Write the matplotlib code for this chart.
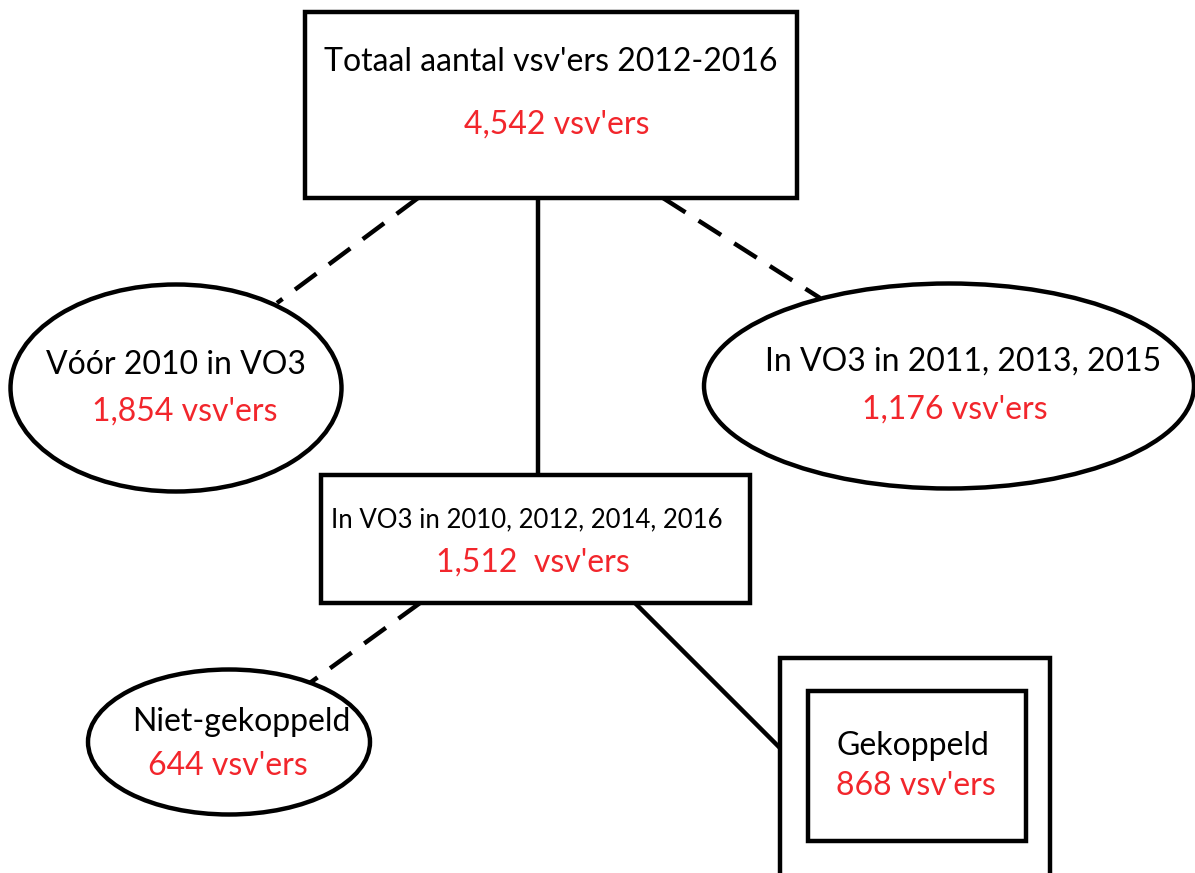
import matplotlib.pyplot as plt
from matplotlib.patches import Rectangle, Ellipse

# node texts and counts
labels = ["Totaal aantal vsv'ers 2012-2016", "Vóór 2010 in VO3",
          "In VO3 in 2011, 2013, 2015", "In VO3 in 2010, 2012, 2014, 2016",
          "Niet-gekoppeld", "Gekoppeld"]
counts = [4542, 1854, 1176, 1512, 644, 868]
count_fmt = ["{:,} vsv'ers", "{:,} vsv'ers", "{:,} vsv'ers",
             "{:,}  vsv'ers", "{:,} vsv'ers", "{:,} vsv'ers"]

RED = '#f2262c'
LW = 3.2
plt.rcParams['font.family'] = ['Lato', 'DejaVu Sans']

fig = plt.figure(figsize=(11.95, 8.73), dpi=100)
ax = fig.add_axes([0, 0, 1, 1])
ax.set_xlim(0, 1195)
ax.set_ylim(873, 0)
ax.axis('off')

# connectors
ax.plot([418, 277], [198, 303], color='k', lw=LW, ls=(0, (6, 3.5)))
ax.plot([663, 820], [198, 298], color='k', lw=LW, ls=(0, (6, 3.5)))
ax.plot([538, 538], [198, 475], color='k', lw=LW)
ax.plot([420, 307], [603, 685], color='k', lw=LW, ls=(0, (6, 3.5)))
ax.plot([635, 780], [603, 748], color='k', lw=LW)

# shapes
ax.add_patch(Rectangle((305, 12), 492, 186, fc='white', ec='k', lw=LW, zorder=3))
ax.add_patch(Ellipse((176, 388), 331, 207, fc='white', ec='k', lw=LW, zorder=3))
ax.add_patch(Ellipse((949, 386), 490, 205, fc='white', ec='k', lw=LW, zorder=3))
ax.add_patch(Rectangle((321, 475), 429, 128, fc='white', ec='k', lw=LW, zorder=3))
ax.add_patch(Ellipse((229, 742), 282, 145, fc='white', ec='k', lw=LW, zorder=3))
ax.add_patch(Rectangle((780, 658), 270, 260, fc='white', ec='k', lw=LW, zorder=3))
ax.add_patch(Rectangle((808, 691), 218, 150, fc='white', ec='k', lw=LW, zorder=3))

# text placement
label_xy = [(551, 62), (176, 365), (963, 362), (527, 520), (241, 722), (913, 746)]
count_xy = [(557, 125), (185, 412), (955, 410), (533, 563), (228, 766), (916, 786)]
sizes = [23, 23, 23, 18.5, 23, 23]
for i in range(len(labels)):
    ax.text(*label_xy[i], labels[i], ha='center', va='center',
            fontsize=sizes[i], color='black', zorder=4)
    ax.text(*count_xy[i], count_fmt[i].format(counts[i]), ha='center',
            va='center', fontsize=23, color=RED, zorder=4)

fig.savefig('out.png', dpi=100)
